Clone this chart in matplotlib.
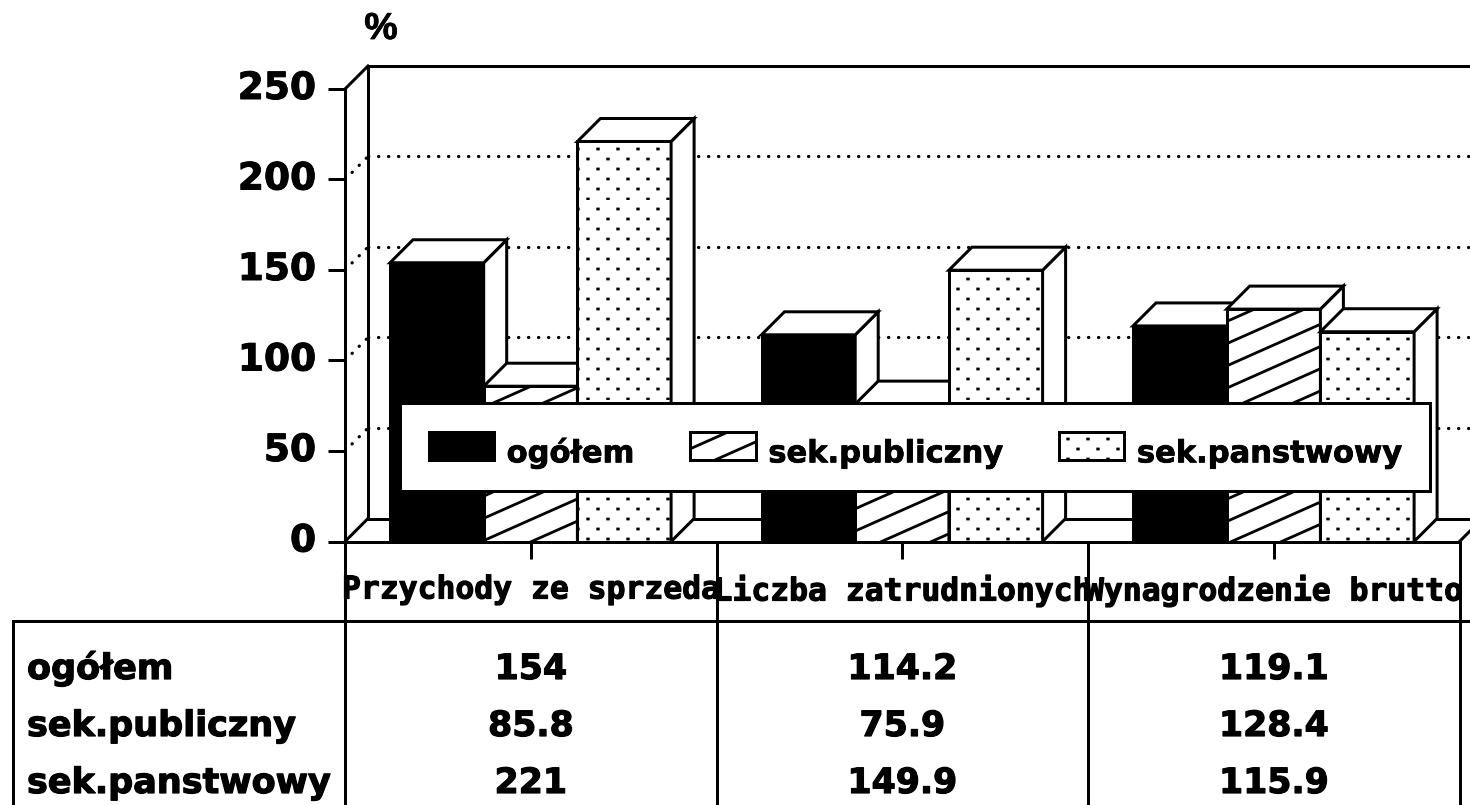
import numpy as np
import matplotlib
matplotlib.use("Agg")
import matplotlib.pyplot as plt
import matplotlib.hatch as mhatch
import matplotlib.patheffects as pe
from matplotlib.patches import Polygon, Patch
from matplotlib.path import Path
from matplotlib.font_manager import FontProperties

# ---- data ----
categories = ["Przychody ze sprzeda", "Liczba zatrudnionych", "Wynagrodzenie brutto"]
series_names = ["ogółem", "sek.publiczny", "sek.panstwowy"]
ogolem = [154, 114.2, 119.1]
publiczny = [85.8, 75.9, 128.4]
panstwowy = [221, 149.9, 115.9]
value_labels = [["154", "114.2", "119.1"],
                ["85.8", "75.9", "128.4"],
                ["221", "149.9", "115.9"]]
y_ticks = [0, 50, 100, 150, 200, 250]

# ---- layout in pixels of the 1470x805 canvas ----
W, H, DPI = 1470, 805, 200
PX = 72 / DPI                # one pixel in points
X0, Y0 = 345, 541.5          # front origin
CAT_W = 371.5                # width of a category
Y_SCALE = 1.81               # pixels per unit
DEPTH = 23                   # 3-D offset
BAR_W = 93.7 / CAT_W
BAR_OFF = 45 / CAT_W
DX, DY = DEPTH / CAT_W, DEPTH / Y_SCALE
LW = 3 * PX


class ShallowHatch(mhatch.HatchPatternBase):
    """Lines rising 4/9 of the tile width, nine per tile."""
    def __init__(self, hatch, density):
        self.on = '/' in hatch
        self.ks = np.arange(-4, 9)
        self.num_vertices = 2 * len(self.ks) if self.on else 0

    def set_vertices_and_codes(self, vertices, codes):
        for i, k in enumerate(self.ks):
            vertices[2 * i] = (0, k / 9)
            vertices[2 * i + 1] = (1, k / 9 + 4 / 9)
            codes[2 * i] = Path.MOVETO
            codes[2 * i + 1] = Path.LINETO


class DotHatch(mhatch.HatchPatternBase):
    """Staggered lattice of small dots."""
    def __init__(self, hatch, density):
        self.on = '.' in hatch
        pts = []
        for j in range(10):
            for i in range(10):
                pts.append(((17.7 + 20 * i) / 200, (11 + 20 * j) / 200))
                pts.append(((7.7 + 20 * i) / 200, (1 + 20 * j) / 200))
        self.pts = pts
        self.num_vertices = 2 * len(pts) if self.on else 0

    def set_vertices_and_codes(self, vertices, codes):
        for i, (x, y) in enumerate(self.pts):
            vertices[2 * i] = (x, y)
            vertices[2 * i + 1] = (x + 0.003, y)
            codes[2 * i] = Path.MOVETO
            codes[2 * i + 1] = Path.LINETO


mhatch._hatch_types[:] = [ShallowHatch, DotHatch]

plt.rcParams["hatch.linewidth"] = 2.8 * PX
plt.rcParams["lines.scale_dashes"] = False
plt.rcParams["font.family"] = ["DejaVu Sans"]
plt.rcParams["ytick.alignment"] = "center"

fig = plt.figure(figsize=(W / DPI, H / DPI), dpi=DPI, facecolor="white")
ax = fig.add_axes([X0 / W, (H - Y0) / H, (W - X0) / W, (Y0 - 65) / H])
ax.set_xlim(0, (W - X0) / CAT_W)
ax.set_ylim(0, (Y0 - 65) / Y_SCALE)
ax.patch.set_visible(False)


def to_y(py):
    """Canvas pixel row to a data value."""
    return (Y0 - py) / Y_SCALE


def to_x(px):
    """Canvas pixel column to a data position."""
    return (px - X0) / CAT_W


def thick(w=0.9):
    return [pe.withStroke(linewidth=w * PX * 2, foreground="black")]


line = dict(color="black", lw=LW, solid_capstyle="projecting", clip_on=False)

# walls and floor
ax.plot([DX, DX], [DY, 250 + DY], zorder=1, **line)
ax.plot([DX, to_x(W + 5)], [250 + DY, 250 + DY], zorder=1, **line)
ax.plot([0, DX], [250, 250 + DY], zorder=1, **line)
ax.plot([0, DX], [0, DY], zorder=1, **line)
ax.plot([DX, to_x(W + 5)], [DY, DY], zorder=1, **line)
ax.plot([3, 3 + DX], [0, DY], zorder=1, color="black", lw=LW, clip_on=True)

# dotted gridlines: back wall and side wall
dots = dict(color="black", lw=3.2 * PX, linestyle=(0, (0.3 * PX, 9.7 * PX)),
            dash_capstyle="round", zorder=1)
for v in y_ticks[1:-1]:
    ax.plot([DX, to_x(W + 5)], [v + DY, v + DY], **dots)
    ax.plot([0, DX], [v, v + DY], **dots)

# 3-D bars
styles = [dict(facecolor="black", hatch=None),
          dict(facecolor="white", hatch="/"),
          dict(facecolor="white", hatch=".")]
for c in range(len(categories)):
    for s, vals in enumerate([ogolem, publiczny, panstwowy]):
        x = c + BAR_OFF + s * BAR_W
        v = vals[c]
        z = 2 + c * 3 + s * 0.3
        ax.bar(x, v, BAR_W, align="edge", edgecolor="black", linewidth=LW,
               zorder=z, **styles[s])
        r = x + BAR_W
        ax.add_patch(Polygon([(r, 0), (r + DX, DY), (r + DX, v + DY), (r, v)],
                             closed=True, fc="white", ec="black", lw=LW, zorder=z))
        ax.add_patch(Polygon([(x, v), (x + DX, v + DY), (r + DX, v + DY), (r, v)],
                             closed=True, fc="white", ec="black", lw=LW, zorder=z))

# axes, ticks, tick labels
for side in ("top", "right"):
    ax.spines[side].set_visible(False)
ax.spines["left"].set_bounds(0, 250)
ax.spines["bottom"].set_bounds(0, 3)
for side in ("left", "bottom"):
    ax.spines[side].set_linewidth(LW)
    ax.spines[side].set_zorder(20)
ax.set_yticks(y_ticks)
ax.set_xticks(np.arange(len(categories)) + 0.5)
ax.set_xticklabels(categories, family="DejaVu Sans Mono", weight="bold", fontsize=11.3)
ax.tick_params(axis="y", length=17 * PX, width=LW, pad=12 * PX)
ax.tick_params(axis="x", length=17 * PX, width=LW, pad=17 * PX)
for t in ax.get_yticklabels():
    t.set_fontsize(13.5)
    t.set_fontweight("bold")
    t.set_path_effects(thick(0.5))
for t in ax.get_xticklabels():
    t.set_path_effects(thick(0.6))

# % label
ax.text(to_x(381), to_y(29), "%", family="Liberation Sans", weight="bold", fontsize=13.5,
        ha="center", va="center", path_effects=thick(0.4))

# table grid
for c in range(len(categories) + 1):
    ax.plot([c, c], [0, to_y(H + 5)], zorder=25, **line)
ax.plot([to_x(13), to_x(W + 5)], [to_y(621), to_y(621)], zorder=25, **line)
ax.plot([to_x(13), to_x(13)], [to_y(621), to_y(H + 5)], zorder=25, **line)

# table text
row_base = [679, 736, 793]
for r, name in enumerate(series_names):
    ax.text(to_x(27), to_y(row_base[r]), name, weight="bold", fontsize=12.6,
            ha="left", va="baseline", path_effects=thick(0.6))
    for c in range(len(categories)):
        ax.text(c + 0.5, to_y(row_base[r]), value_labels[r][c], weight="bold", fontsize=12.5,
                ha="center", va="baseline", path_effects=thick(0.6))

# legend
handles = [Patch(edgecolor="black", lw=LW, **st) for st in styles]
leg = ax.legend(handles, series_names, ncols=3, loc="upper left",
                bbox_to_anchor=(to_x(400) / ax.get_xlim()[1], (to_y(403)) / ax.get_ylim()[1]),
                borderaxespad=0, fancybox=False, edgecolor="black", framealpha=1,
                prop=FontProperties(family="DejaVu Sans", weight="bold", size=11),
                handlelength=2.13, handleheight=1.05, handletextpad=0.42,
                columnspacing=1.85, borderpad=0.94)
leg.get_frame().set_linewidth(LW)
leg.set_zorder(30)
for t in leg.get_texts():
    t.set_path_effects(thick(0.4))
    t.set_y(-6)

fig.savefig("out.png", dpi=DPI, facecolor="white")
